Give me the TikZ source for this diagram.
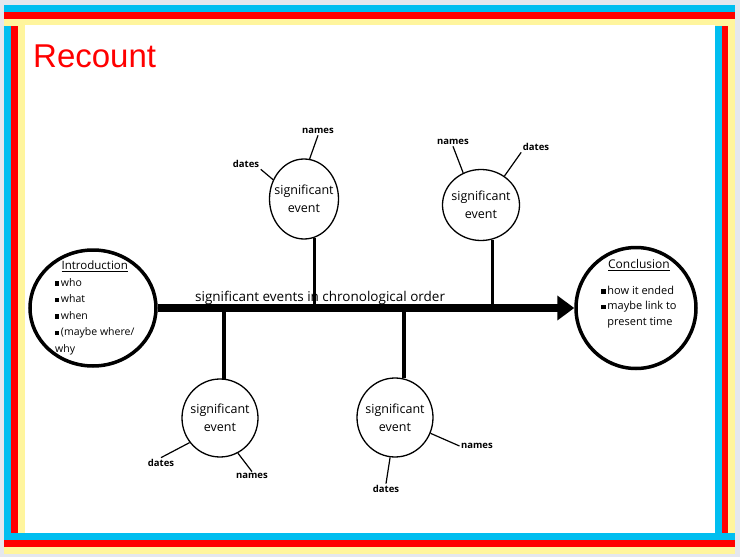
\documentclass[tikz,border=0pt]{standalone}
\usepackage{fontspec}
\setmainfont{Open Sans}
\newfontfamily\titlefont{Liberation Sans}
\usetikzlibrary{shapes.geometric,arrows.meta}
\definecolor{stripecyan}{RGB}{0,190,240}
\definecolor{stripered}{RGB}{255,0,0}
\definecolor{stripeyellow}{RGB}{255,245,157}
\definecolor{pagegray}{RGB}{228,231,238}
\newcommand{\sq}{\rule[0.1ex]{0.4em}{0.4em}\hspace{0.15em}}

\begin{document}
\begin{tikzpicture}[x=1pt,y=-1pt,
  event/.style={ellipse,draw,line width=1.3pt,fill=white,inner sep=-12pt,align=center,font=\fontsize{12.5}{18}\selectfont},
  big/.style={ellipse,draw,line width=3.5pt,fill=white,inner sep=0pt},
  tag/.style={inner sep=1.5pt,font=\bfseries\fontsize{9.5}{10}\selectfont},
  stem/.style={line width=3.5pt},
  tick/.style={line width=1.2pt}]
% page and striped frame
\fill[pagegray] (0,0) rectangle (740,557);
\foreach \c/\i in {stripecyan/0,stripered/1,stripeyellow/2} {
  \fill[\c] (4,5+7*\i) rectangle (735,12+7*\i);
  \fill[\c] (4,533+7*\i) rectangle (735,540+7*\i);
  \fill[\c] (4+7*\i,25) rectangle (11+7*\i,533);
  \fill[\c] (715+6.7*\i,25) rectangle (721.7+6.7*\i,533);
}
\fill[white] (25,25) rectangle (715,533);
\node[anchor=base west,inner sep=0,text=red,font=\titlefont\fontsize{33}{33}\selectfont] (title) at (33,67) {Recount};

% ends of the timeline
\node[big,minimum width=126,minimum height=116] (intro) at (93,308) {};
\node[anchor=north west,inner sep=0,font=\fontsize{10.5}{16.5}\selectfont] (introtxt) at (55,258) {%
  \begin{tabular}{@{}l@{}}
  \multicolumn{1}{@{}c@{}}{\fontsize{11.5}{16.5}\selectfont\underline{Introduction}}\\
  \sq who\\ \sq what\\ \sq when\\ \sq(maybe where/\\ why
  \end{tabular}};
\node[big,minimum width=120,minimum height=121] (concl) at (636,308) {};
\node[inner sep=0,font=\fontsize{11}{15.5}\selectfont] (concltxt) at (639,294) {%
  \begin{tabular}{@{}l@{}}
  \multicolumn{1}{@{}c@{}}{\fontsize{12}{15.5}\selectfont\underline{Conclusion}}\\[10pt]
  \sq how it ended\\ \sq maybe link to\\ \phantom{\sq}present time
  \end{tabular}};
\node[anchor=base west,inner sep=0,font=\fontsize{13.5}{15}\selectfont] (order) at (195,301) {significant events in chronological order};
\draw[line width=8pt,-{Triangle[length=17pt,width=24pt]}] (intro) -- (concl);

% events
\node[event,minimum width=69,minimum height=80] (ev1) at (304,199) {significant\\event};
\node[event,minimum width=77,minimum height=71] (ev2) at (481,205) {significant\\event};
\node[event,minimum width=76,minimum height=78] (ev3) at (220,418) {significant\\event};
\node[event,minimum width=76,minimum height=79] (ev4) at (395,417.5) {significant\\event};
\foreach \e/\a in {ev1/-75,ev2/-72,ev3/84,ev4/77}
  \draw[stem] (\e.\a) -- (\e.\a |- intro.east);

% names and dates
\node[tag] (nm1) at (318,131) {names};
\node[tag] (dt1) at (246,164) {dates};
\node[tag] (nm2) at (453,142) {names};
\node[tag] (dt2) at (536,147) {dates};
\node[tag] (dt3) at (161,463) {dates};
\node[tag] (nm3) at (252,476) {names};
\node[tag] (nm4) at (477,446) {names};
\node[tag] (dt4) at (386,489) {dates};
\foreach \e/\a/\t in {ev1/82/nm1.south,ev1/148/dt1.south east,ev2/119/nm2.south,ev2/51/dt2.south west,
  ev3/219/dt3.north,ev3/-63/nm3.north,ev4/-24/nm4.west,ev4/-97/dt4.north}
  \draw[tick] (\e.\a) -- (\t);
\end{tikzpicture}
\end{document}
